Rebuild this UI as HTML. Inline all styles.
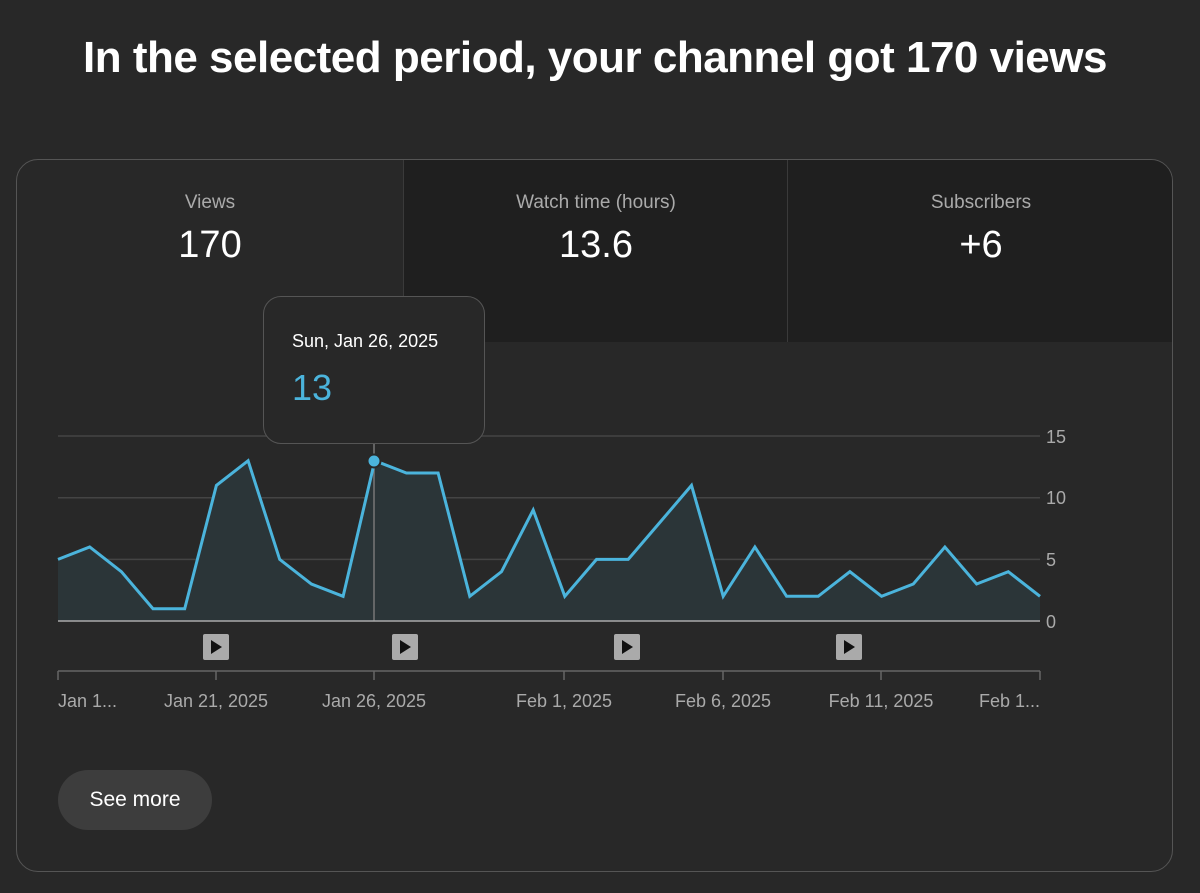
<!DOCTYPE html>
<html><head><meta charset="utf-8"><style>
body{margin:0;width:1200px;height:893px;background:#282828;font-family:"Liberation Sans",sans-serif;overflow:hidden;position:relative}
h1{position:absolute;top:33px;left:0;width:1190px;text-align:center;margin:0;color:#fff;font-size:44px;font-weight:bold;letter-spacing:-0.5px}
.card{position:absolute;left:16px;top:159px;width:1155px;height:711px;border:1.5px solid #555;border-radius:22px;overflow:hidden;background:#282828}
.tab{position:absolute;top:0;height:182px;text-align:center}
.tab .l{margin-top:32px;color:#aaa;font-size:19px}
.tab .v{margin-top:10px;color:#fff;font-size:38px}
.btn{position:absolute;left:58px;top:770px;width:154px;height:60px;border-radius:30px;background:#3d3d3d;color:#fff;font-size:21px;line-height:60px;text-align:center}
.tip{position:absolute;left:263px;top:296px;width:220px;height:146px;border:1.5px solid #555;border-radius:18px;background:#282828}
</style></head><body>
<h1>In the selected period, your channel got 170 views</h1>
<div class="card">
<div class="tab" style="left:0;width:386px"><div class="l">Views</div><div class="v">170</div></div>
<div class="tab" style="left:386px;width:384px;background:#1f1f1f;border-left:1px solid #3a3a3a"><div class="l">Watch time (hours)</div><div class="v">13.6</div></div>
<div class="tab" style="left:770px;width:386px;background:#1f1f1f;border-left:1px solid #3a3a3a"><div class="l">Subscribers</div><div class="v">+6</div></div>
</div>
<svg style="position:absolute;left:0;top:0" width="1200" height="893">
<g stroke="#444" stroke-width="1.5"><line x1="58" y1="436" x2="1040" y2="436"/><line x1="58" y1="497.7" x2="1040" y2="497.7"/><line x1="58" y1="559.4" x2="1040" y2="559.4"/></g>
<polygon fill="#2b3538" points="58,621 58,559.4 89.7,547 121.4,571.7 153,608.7 184.7,608.7 216.4,485.4 248.1,460.7 279.7,559.4 311.4,584 343.1,596.3 374.8,460.7 406.4,473 438.1,473 469.8,596.3 501.5,571.7 533.2,510 564.8,596.3 596.5,559.4 628.2,559.4 659.9,522.4 691.5,485.4 723.2,596.3 754.9,547 786.6,596.3 818.2,596.3 849.9,571.7 881.6,596.3 913.3,584 944.9,547 976.6,584 1008.3,571.7 1040,596.3 1040,621"/>
<line x1="374" y1="442" x2="374" y2="621" stroke="#777" stroke-width="1.5"/>
<polyline fill="none" stroke="#4bb4dc" stroke-width="3" stroke-linejoin="miter" points="58,559.4 89.7,547 121.4,571.7 153,608.7 184.7,608.7 216.4,485.4 248.1,460.7 279.7,559.4 311.4,584 343.1,596.3 374.8,460.7 406.4,473 438.1,473 469.8,596.3 501.5,571.7 533.2,510 564.8,596.3 596.5,559.4 628.2,559.4 659.9,522.4 691.5,485.4 723.2,596.3 754.9,547 786.6,596.3 818.2,596.3 849.9,571.7 881.6,596.3 913.3,584 944.9,547 976.6,584 1008.3,571.7 1040,596.3"/>
<circle cx="374" cy="461" r="6.5" fill="#4bb4dc" stroke="#282828" stroke-width="2"/>
<line x1="58" y1="621" x2="1040" y2="621" stroke="#aaa" stroke-width="1.5"/>
<line x1="58" y1="671" x2="1040" y2="671" stroke="#666" stroke-width="1.5"/>
<g stroke="#666" stroke-width="1.5"><line x1="58" y1="671" x2="58" y2="680"/><line x1="216" y1="671" x2="216" y2="680"/><line x1="374" y1="671" x2="374" y2="680"/><line x1="564" y1="671" x2="564" y2="680"/><line x1="723" y1="671" x2="723" y2="680"/><line x1="881" y1="671" x2="881" y2="680"/><line x1="1040" y1="671" x2="1040" y2="680"/></g>
<g fill="#aaa"><rect x="203" y="634" width="26" height="26" rx="2"/><rect x="392" y="634" width="26" height="26" rx="2"/><rect x="614" y="634" width="26" height="26" rx="2"/><rect x="836" y="634" width="26" height="26" rx="2"/></g>
<g fill="#111"><path d="M211,640 l11,7 l-11,7z"/><path d="M400,640 l11,7 l-11,7z"/><path d="M622,640 l11,7 l-11,7z"/><path d="M844,640 l11,7 l-11,7z"/></g>
<g fill="#aaa" font-size="18" font-family="Liberation Sans, sans-serif">
<text x="1046" y="443">15</text><text x="1046" y="504">10</text><text x="1046" y="566">5</text><text x="1046" y="628">0</text>
<text x="58" y="707">Jan 1...</text>
<text x="216" y="707" text-anchor="middle">Jan 21, 2025</text>
<text x="374" y="707" text-anchor="middle">Jan 26, 2025</text>
<text x="564" y="707" text-anchor="middle">Feb 1, 2025</text>
<text x="723" y="707" text-anchor="middle">Feb 6, 2025</text>
<text x="881" y="707" text-anchor="middle">Feb 11, 2025</text>
<text x="1040" y="707" text-anchor="end">Feb 1...</text>
</g>
</svg>
<div class="tip"><div style="position:absolute;left:28px;top:34px;color:#fff;font-size:18px">Sun, Jan 26, 2025</div><div style="position:absolute;left:28px;top:70px;color:#4bb4dc;font-size:36px">13</div></div>
<div class="btn">See more</div>
</body></html>
